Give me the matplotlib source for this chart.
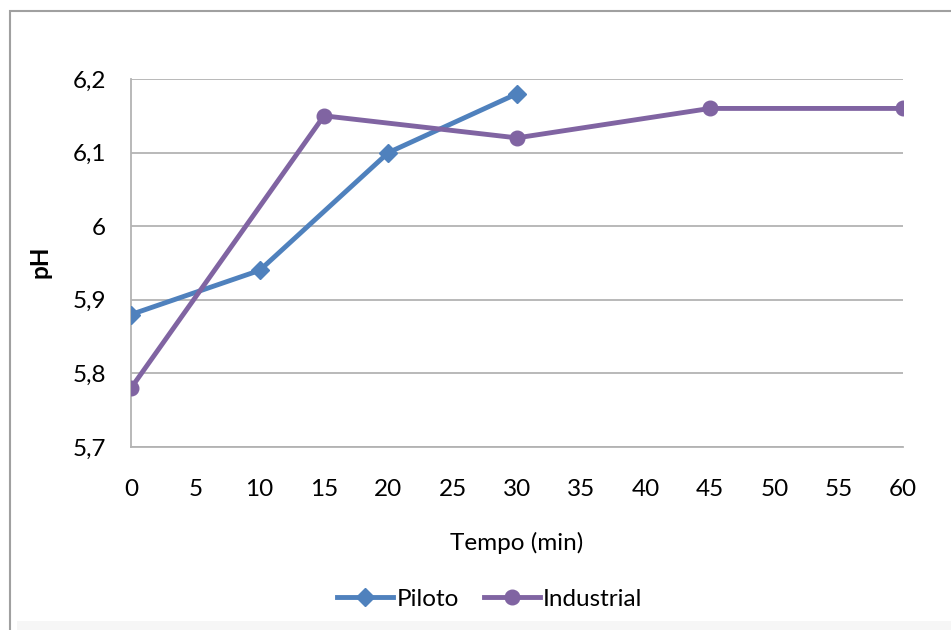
import matplotlib.pyplot as plt
from matplotlib import patches

# pH ao longo do tempo: escala piloto x industrial
piloto_t = [0, 10, 20, 30]
piloto_ph = [5.88, 5.94, 6.10, 6.18]
industrial_t = [0, 15, 30, 45, 60]
industrial_ph = [5.78, 6.15, 6.12, 6.16, 6.16]

x_ticks = list(range(0, 61, 5))
y_ticks = [5.7, 5.8, 5.9, 6.0, 6.1, 6.2]
y_labels = ["5,7", "5,8", "5,9", "6", "6,1", "6,2"]

BLUE = "#4F81BD"
PURPLE = "#8064A2"
GRID = "#B3B3B3"
FS = 17.5

plt.rcParams["font.family"] = ["Lato", "DejaVu Sans"]

fig = plt.figure(figsize=(9.51, 6.30), dpi=100)

# moldura do gráfico e sombra inferior
fig.patches.append(patches.Rectangle(
    (17 / 951, 0), 1, 9 / 630, transform=fig.transFigure,
    facecolor="#F6F6F6", edgecolor="none", zorder=0))
fig.patches.append(patches.Rectangle(
    (10 / 951, -0.05), 1.2, 1 - 11 / 630 + 0.05, transform=fig.transFigure,
    facecolor="none", edgecolor="#A0A0A0", linewidth=1.5, zorder=1))

ax = fig.add_axes([131 / 951, 1 - 447 / 630, (903 - 131) / 951, (447 - 79) / 630])

ax.plot(piloto_t, piloto_ph, color=BLUE, linewidth=3.5, marker="D",
        markersize=9.5, label="Piloto", zorder=3)
ax.plot(industrial_t, industrial_ph, color=PURPLE, linewidth=3.5, marker="o",
        markersize=10.5, label="Industrial", zorder=3)

ax.set_xlim(0, 60)
ax.set_ylim(5.7, 6.2)
ax.set_xticks(x_ticks)
ax.set_yticks(y_ticks)
ax.set_yticklabels(y_labels)
ax.tick_params(length=0, labelsize=FS)
ax.tick_params(axis="x", pad=23)
ax.tick_params(axis="y", pad=18)
ax.grid(axis="y", color=GRID, linewidth=1.3)
ax.set_axisbelow(True)

for side in ("top", "right"):
    ax.spines[side].set_visible(False)
for side in ("left", "bottom"):
    ax.spines[side].set_color(GRID)
    ax.spines[side].set_linewidth(1.3)

fig.text(40 / 951, 1 - 262 / 630, "pH", rotation=90, fontsize=FS,
         fontweight="bold", ha="center", va="center")
fig.text(517 / 951, 1 - 543 / 630, "Tempo (min)", fontsize=FS,
         ha="center", va="center")

fig.legend(loc="center", bbox_to_anchor=(490 / 951, 1 - 599 / 630), ncol=2,
           frameon=False, fontsize=FS, handlelength=2.3, handletextpad=0.15,
           columnspacing=1.0)

fig.savefig("out.png", dpi=100)
